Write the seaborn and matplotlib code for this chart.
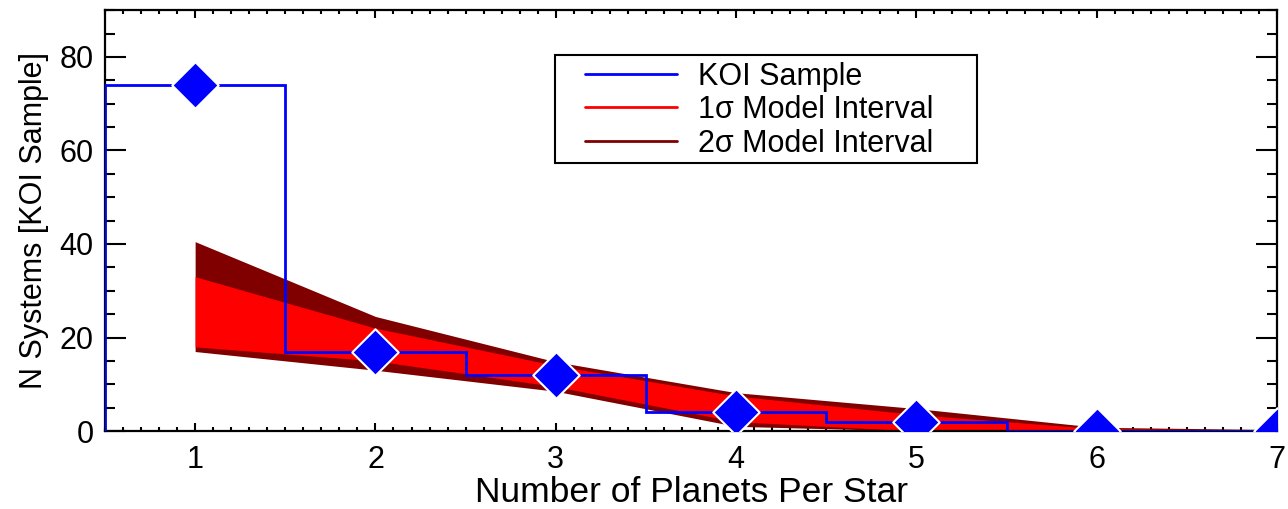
import numpy as np
import pandas as pd
import matplotlib
matplotlib.use("Agg")
import matplotlib.pyplot as plt
from matplotlib.ticker import MultipleLocator
from matplotlib.lines import Line2D
from matplotlib.patches import Rectangle
import seaborn as sns

# ---- data ----
n_planets = [1, 2, 3, 4, 5, 6, 7]
koi_counts = [74, 17, 12, 4, 2, 0, 0]
lo2 = [17.0, 13.0, 8.5, 1.0, 0.0, 0.0, 0.0]
lo1 = [18.0, 15.0, 9.5, 2.0, 0.0, 0.0, 0.0]
hi1 = [33.0, 22.0, 14.0, 7.5, 3.5, 0.5, 0.2]
hi2 = [40.5, 24.5, 14.8, 8.2, 4.8, 0.8, 0.3]
x_ticks = [1, 2, 3, 4, 5, 6, 7]
y_ticks = [0, 20, 40, 60, 80]

sns.set_style("ticks")
plt.rcParams['font.family'] = ['Liberation Sans', 'DejaVu Sans']
plt.rcParams['text.color'] = 'black'
plt.rcParams['axes.labelcolor'] = 'black'
plt.rcParams['xtick.color'] = 'black'
plt.rcParams['ytick.color'] = 'black'

fig = plt.figure(figsize=(12.88, 5.09), dpi=100)
ax = fig.add_axes([0.0815, 0.1532, 0.9915 - 0.0815, 0.980 - 0.1532])

dark_red = "#800000"
red = "#ff0000"
blue = "#0000ff"

ax.fill_between(n_planets, lo2, hi2, color=dark_red, linewidth=0, zorder=1)
ax.fill_between(n_planets, lo1, hi1, color=red, linewidth=0, zorder=2)

edges = np.arange(len(koi_counts) + 1) + 0.5
ax.stairs(koi_counts, edges, baseline=0, color=blue, linewidth=2, zorder=3)

df = pd.DataFrame({"n": n_planets, "count": koi_counts})
sns.scatterplot(data=df, x="n", y="count", marker="D", s=560, color=blue,
                edgecolor="white", linewidth=1.5, ax=ax, zorder=4, legend=False)

ax.set_xlim(0.5, 7)
ax.set_ylim(0, 90)
ax.set_xticks(x_ticks)
ax.set_yticks(y_ticks)
ax.xaxis.set_minor_locator(MultipleLocator(0.1))
ax.yaxis.set_minor_locator(MultipleLocator(5))
ax.tick_params(axis="both", which="both", direction="in", top=True, right=True,
               labelsize=22, colors="black", width=1.5)
ax.tick_params(axis="y", which="major", length=15, pad=8)
ax.tick_params(axis="y", which="minor", length=7)
ax.tick_params(axis="x", which="major", length=6, pad=10)
ax.tick_params(axis="x", which="minor", length=3)
for sp in ax.spines.values():
    sp.set_visible(True)
    sp.set_linewidth(1.6)
    sp.set_color("black")

ax.set_xlabel("Number of Planets Per Star", fontsize=25.5, labelpad=1)
ax.set_ylabel("N Systems [KOI Sample]", fontsize=22, labelpad=8)

# legend frame (box) and frameless legend content
ax.add_patch(Rectangle((0.384, 0.637), 0.744 - 0.384, 0.893 - 0.637,
                       transform=ax.transAxes, facecolor="white",
                       edgecolor="black", linewidth=1.5, zorder=5))
handles = [Line2D([], [], color=blue, lw=2),
           Line2D([], [], color=red, lw=2),
           Line2D([], [], color=dark_red, lw=2)]
labels = ["KOI Sample", "1\u03c3 Model Interval", "2\u03c3 Model Interval"]
leg = ax.legend(handles, labels, loc="upper left", bbox_to_anchor=(0.4096, 0.878),
                fontsize=22, frameon=False, handlelength=3.0, handletextpad=0.7,
                borderpad=0, labelspacing=0.12, borderaxespad=0)
leg.set_zorder(6)

fig.savefig("out.png", dpi=100)
